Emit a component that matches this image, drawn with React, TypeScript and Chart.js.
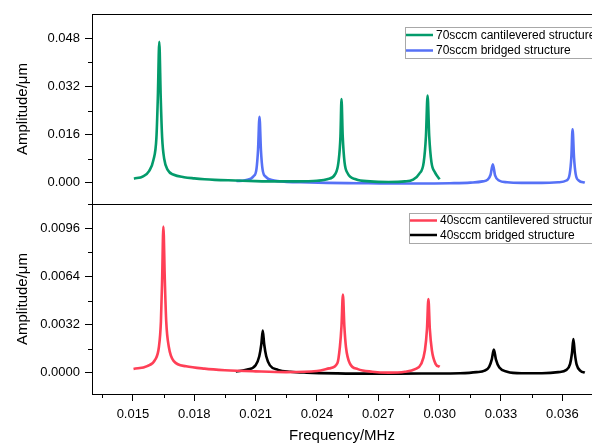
import { useEffect, useRef } from 'react';
import { Chart, registerables } from 'chart.js';

Chart.register(...registerables);

const FONT = "'Liberation Sans', Arial, Helvetica, sans-serif";

// ---- axis ticks ----
const xMajorTicks = [0.015, 0.018, 0.021, 0.024, 0.027, 0.03, 0.033, 0.036];
const xMinorTicks = [0.0135, 0.0165, 0.0195, 0.0225, 0.0255, 0.0285, 0.0315, 0.0345];
const yTopTicks = [0, 0.016, 0.032, 0.048];
const yTopMinor = [0.008, 0.024, 0.04];
const yBottomTicks = [0, 0.0032, 0.0064, 0.0096];
const yBottomMinor = [0.0016, 0.0048, 0.008];

// ---- series labels ----
const labelGreen70 = '70sccm cantilevered structure';
const labelBlue70 = '70sccm bridged structure';
const labelRed40 = '40sccm cantilevered structure';
const labelBlack40 = '40sccm bridged structure';

// ---- 70sccm cantilevered (top) ----
const green70X = [0.01505, 0.0155, 0.0158, 0.016, 0.01615, 0.01622, 0.01629, 0.01636, 0.01643, 0.01653, 0.0167, 0.017, 0.0175, 0.018, 0.0185, 0.019, 0.02, 0.021, 0.022, 0.023, 0.024, 0.0245, 0.0249, 0.02505, 0.02515, 0.0252, 0.02526, 0.02535, 0.0255, 0.0259, 0.0266, 0.0275, 0.0283, 0.0287, 0.029, 0.02922, 0.02933, 0.02941, 0.02949, 0.0296, 0.02977, 0.03];
const green70Y = [0.0014, 0.0022, 0.004, 0.0075, 0.015, 0.0285, 0.0468, 0.0285, 0.015, 0.008, 0.0043, 0.0027, 0.0019, 0.0015, 0.0012, 0.001, 0.0008, 0.0006, 0.0005, 0.0005, 0.0007, 0.0012, 0.003, 0.0068, 0.0155, 0.0278, 0.0155, 0.0068, 0.0032, 0.0012, 0.0005, 0.0003, 0.0005, 0.0011, 0.003, 0.0068, 0.0155, 0.029, 0.0155, 0.0068, 0.0035, 0.0012];

// ---- 70sccm bridged (top) ----
const blue70X = [0.02006, 0.0205, 0.0209, 0.02104, 0.02112, 0.02119, 0.02126, 0.02134, 0.0215, 0.0219, 0.0224, 0.0232, 0.0245, 0.026, 0.0275, 0.029, 0.0305, 0.0315, 0.0321, 0.03235, 0.03249, 0.0326, 0.03271, 0.0329, 0.0333, 0.034, 0.035, 0.0358, 0.0362, 0.03636, 0.03644, 0.0365, 0.03657, 0.03665, 0.0368, 0.0371];
const blue70Y = [0.0006, 0.0009, 0.0022, 0.0045, 0.011, 0.0219, 0.011, 0.0045, 0.002, 0.0008, 0.0004, 0.0002, 0.0, -0.0001, -0.0002, -0.0002, -0.0001, 0.0001, 0.0005, 0.0011, 0.0027, 0.0062, 0.0025, 0.0008, 0.0002, 0.0, 0.0, 0.0002, 0.0008, 0.003, 0.0085, 0.0178, 0.0085, 0.003, 0.0008, 0.0001];

// ---- 40sccm cantilevered (bottom) ----
const red40X = [0.01503, 0.0157, 0.0161, 0.01627, 0.01637, 0.01643, 0.01649, 0.01656, 0.01663, 0.01676, 0.017, 0.0176, 0.0185, 0.0195, 0.021, 0.0225, 0.024, 0.0246, 0.025, 0.02512, 0.0252, 0.02527, 0.02534, 0.02542, 0.0256, 0.026, 0.0267, 0.0275, 0.0283, 0.0288, 0.0291, 0.02928, 0.02938, 0.02945, 0.02952, 0.02962, 0.0298, 0.03];
const red40Y = [0.00026, 0.00045, 0.0009, 0.0017, 0.0034, 0.0062, 0.0097, 0.0062, 0.0034, 0.0017, 0.00078, 0.00044, 0.00028, 0.00018, 0.0001, 0.00005, 0.00012, 0.0003, 0.00065, 0.0017, 0.0031, 0.0052, 0.0031, 0.0017, 0.00065, 0.00025, 0.00008, 0.00002, 0.00008, 0.00025, 0.0006, 0.0015, 0.0029, 0.0049, 0.0029, 0.0015, 0.0006, 0.0004];

// ---- 40sccm bridged (bottom) ----
const black40X = [0.02003, 0.0206, 0.021, 0.02118, 0.02128, 0.02135, 0.02142, 0.02152, 0.0217, 0.0221, 0.0227, 0.0235, 0.025, 0.0265, 0.028, 0.0295, 0.031, 0.0318, 0.0322, 0.03242, 0.03255, 0.03265, 0.03275, 0.03292, 0.0333, 0.034, 0.035, 0.0358, 0.0362, 0.03638, 0.03647, 0.03654, 0.03661, 0.0367, 0.0369, 0.0371];
const black40Y = [0.0001, 0.00022, 0.0005, 0.0011, 0.0019, 0.0028, 0.0019, 0.0011, 0.0005, 0.0002, 0.00008, 0.00002, -0.00003, -0.00005, -0.00005, -0.00004, -0.00002, 0.00005, 0.00015, 0.0004, 0.0009, 0.00155, 0.0009, 0.00035, 0.00008, -0.00002, -0.00002, 0.00005, 0.0002, 0.0006, 0.0013, 0.00225, 0.0013, 0.00055, 0.00012, 0.00002];

const COLORS = { green: '#039B6B', blue: '#5671F6', red: '#FF3F56', black: '#000000' };

const toPoints = (xs: number[], ys: number[]) => xs.map((x, i) => ({ x, y: ys[i] }));

const panelPlugin = {
  id: 'panelDecor',
  afterDraw(chart: any) {
    const { ctx, chartArea, scales } = chart;
    const x = scales.x;
    const yt = scales.yTop;
    const yb = scales.yBottom;
    ctx.save();
    ctx.strokeStyle = '#000';
    ctx.lineWidth = 1;
    // top frame and separator
    ctx.beginPath();
    ctx.moveTo(chartArea.left, Math.round(yt.top) + 0.5);
    ctx.lineTo(chartArea.right, Math.round(yt.top) + 0.5);
    ctx.moveTo(chartArea.left - 4, Math.round(yt.bottom) + 0.5);
    ctx.lineTo(chartArea.right, Math.round(yt.bottom) + 0.5);
    ctx.stroke();
    // minor ticks
    ctx.beginPath();
    xMinorTicks.forEach((v) => {
      const px = Math.round(x.getPixelForValue(v)) + 0.5;
      ctx.moveTo(px, chartArea.bottom);
      ctx.lineTo(px, chartArea.bottom + 4);
    });
    yTopMinor.forEach((v) => {
      const py = Math.round(yt.getPixelForValue(v)) + 0.5;
      ctx.moveTo(chartArea.left, py);
      ctx.lineTo(chartArea.left - 4, py);
    });
    yBottomMinor.forEach((v) => {
      const py = Math.round(yb.getPixelForValue(v)) + 0.5;
      ctx.moveTo(chartArea.left, py);
      ctx.lineTo(chartArea.left - 4, py);
    });
    ctx.stroke();

    // legends
    const drawLegend = (idx: number[], left: number, top: number, h: number, rows: number[]) => {
      ctx.strokeStyle = '#A8A8A8';
      ctx.lineWidth = 1;
      ctx.strokeRect(left + 0.5, top + 0.5, chart.width - left + 10, h);
      ctx.font = `12px ${FONT}`;
      ctx.textBaseline = 'middle';
      ctx.textAlign = 'left';
      idx.forEach((di, k) => {
        const ds = chart.data.datasets[di];
        const cy = top + rows[k];
        ctx.strokeStyle = ds.borderColor;
        ctx.lineWidth = 2.5;
        ctx.beginPath();
        ctx.moveTo(left + 1, cy);
        ctx.lineTo(left + 28, cy);
        ctx.stroke();
        ctx.fillStyle = '#000';
        ctx.fillText(ds.label, left + 31, cy + 0.5);
      });
    };
    drawLegend([0, 1], chartArea.left + 313, yt.top + 13, 31, [8, 23.5]);
    drawLegend([2, 3], chartArea.left + 317, yb.top + 9, 30, [7.5, 22]);
    ctx.restore();
  },
};

export default function App() {
  const ref = useRef<HTMLCanvasElement>(null);
  useEffect(() => {
    if (!ref.current) return;
    const common = { pointRadius: 0, borderWidth: 2.6, cubicInterpolationMode: 'monotone', fill: false };
    const yTitle = { display: true, text: 'Amplitude/μm', color: '#000', font: { family: FONT, size: 15 }, padding: { top: 0, bottom: 0 } };
    const yGrid = { drawOnChartArea: false, tickLength: 7, tickColor: '#000', tickWidth: 1 };
    const yBorder = { display: true, color: '#000', width: 1 };
    const chart = new Chart(ref.current, {
      type: 'line',
      data: {
        datasets: [
          { ...common, label: labelGreen70, data: toPoints(green70X, green70Y), borderColor: COLORS.green, yAxisID: 'yTop' },
          { ...common, label: labelBlue70, data: toPoints(blue70X, blue70Y), borderColor: COLORS.blue, yAxisID: 'yTop' },
          { ...common, label: labelRed40, data: toPoints(red40X, red40Y), borderColor: COLORS.red, yAxisID: 'yBottom' },
          { ...common, label: labelBlack40, data: toPoints(black40X, black40Y), borderColor: COLORS.black, yAxisID: 'yBottom' },
        ],
      },
      options: {
        responsive: false,
        animation: false,
        layout: { padding: { left: 14, top: 14, right: 0, bottom: 0 } },
        plugins: { legend: { display: false }, tooltip: { enabled: false } },
        scales: {
          x: {
            type: 'linear',
            min: 0.013,
            max: 0.03745,
            afterBuildTicks: (s: any) => { s.ticks = xMajorTicks.map((v) => ({ value: v })); },
            afterFit: (s: any) => { s.height = 51; },
            ticks: {
              color: '#000',
              font: { family: FONT, size: 13 },
              padding: 6,
              maxRotation: 0,
              autoSkip: false,
              callback: (v: any) => Number(v).toFixed(3),
            },
            grid: { drawOnChartArea: false, tickLength: 7, tickColor: '#000', tickWidth: 1 },
            border: { display: true, color: '#000', width: 1 },
            title: { display: true, text: 'Frequency/MHz', color: '#000', font: { family: FONT, size: 15 }, padding: { top: 0, bottom: 0 } },
          },
          yBottom: {
            type: 'linear',
            position: 'left',
            stack: 'panels',
            stackWeight: 1,
            min: -0.0014,
            max: 0.0112,
            afterBuildTicks: (s: any) => { s.ticks = yBottomTicks.map((v) => ({ value: v })); },
            afterFit: (s: any) => { s.width = 78; },
            ticks: { color: '#000', font: { family: FONT, size: 13 }, padding: 5, callback: (v: any) => Number(v).toFixed(4) },
            grid: yGrid,
            border: yBorder,
            title: yTitle,
          },
          yTop: {
            type: 'linear',
            position: 'left',
            stack: 'panels',
            stackWeight: 1,
            min: -0.007,
            max: 0.056,
            afterBuildTicks: (s: any) => { s.ticks = yTopTicks.map((v) => ({ value: v })); },
            afterFit: (s: any) => { s.width = 78; },
            ticks: { color: '#000', font: { family: FONT, size: 13 }, padding: 5, callback: (v: any) => Number(v).toFixed(3) },
            grid: yGrid,
            border: yBorder,
            title: yTitle,
          },
        },
      },
      plugins: [panelPlugin],
    } as any);
    return () => chart.destroy();
  }, []);
  return (
    <div style={{ position: 'absolute', left: 0, top: 0, width: 592, height: 445, overflow: 'hidden', background: '#fff' }}>
      <canvas ref={ref} width={592} height={445} style={{ display: 'block' }} />
    </div>
  );
}
